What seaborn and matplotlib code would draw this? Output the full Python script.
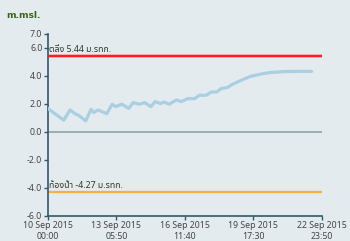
import numpy as np
import pandas as pd
import matplotlib
matplotlib.use("Agg")
import matplotlib.pyplot as plt
import matplotlib.dates as mdates
import seaborn as sns
from matplotlib import font_manager

# ---- data ----
start = "2015-09-10 00:00"
end = "2015-09-22 23:50"
tick_times = ["2015-09-10 00:00", "2015-09-13 05:50", "2015-09-16 11:40",
              "2015-09-19 17:30", "2015-09-22 23:50"]
hours = [0, 18, 25, 32, 35, 43, 49, 52, 57, 67, 73, 77, 84, 92, 97, 104, 110,
         117, 122, 128, 132, 138, 146, 152, 159, 167, 172, 180, 186, 192, 197,
         204, 210, 218, 230, 241, 252, 268, 283, 300]
levels = [1.67, 0.84, 1.57, 1.26, 1.19, 0.79, 1.62, 1.39, 1.57, 1.31, 1.98,
          1.81, 1.98, 1.69, 2.10, 1.98, 2.10, 1.81, 2.17, 2.03, 2.14, 1.98,
          2.29, 2.17, 2.38, 2.38, 2.62, 2.62, 2.86, 2.86, 3.10, 3.17, 3.41,
          3.64, 3.96, 4.12, 4.24, 4.31, 4.33, 4.33]
bank_level = 5.44
bed_level = -4.27
bank_label = "ตลิ่ง 5.44 ม.รทก."
bed_label = "ท้องน้ำ -4.27 ม.รทก."
yticks = [-6.0, -4.0, -2.0, 0.0, 2.0, 4.0, 6.0, 7.0]
y_unit = "m.msl."

t0 = pd.Timestamp(start)
t1 = pd.Timestamp(end)
df = pd.DataFrame({"time": t0 + pd.to_timedelta(hours, unit="h"), "level": levels})
xticks = pd.to_datetime(tick_times)

sns.set_theme(style="white")
avail = {f.name for f in font_manager.fontManager.ttflist}
fams = [f for f in ["Noto Sans Thai", "Loma", "Garuda", "Tlwg Typo", "Noto Sans", "DejaVu Sans"] if f in avail]
plt.rcParams["font.family"] = fams

bg = "#e4ebee"
fig = plt.figure(figsize=(3.5, 2.41), dpi=100, facecolor=bg)
ax = fig.add_axes([0.137, 0.104, 0.783, 0.755])
ax.set_facecolor(bg)

ax.axhline(0, color="#8ea4ae", lw=1.2, zorder=1)
ax.axhline(bank_level, color="#ff9a9a", lw=2.6, zorder=2)
ax.axhline(bank_level, color="#ff1a1a", lw=1.4, zorder=3)
ax.axhline(bed_level, color="#f5b040", lw=1.6, zorder=2)

sns.lineplot(data=df, x="time", y="level", ax=ax, color="#a9cfe3", lw=2.3, zorder=4)

ax.set_xlim(t0, t1)
ax.set_ylim(-6, 7)
ax.set_yticks(yticks)
ax.set_yticklabels([f"{v:.1f}" for v in yticks])
ax.set_xticks(xticks)
ax.set_xticklabels([t.strftime("%d %b %Y\n%H:%M") for t in xticks])
ax.set_xlabel("")
ax.set_ylabel("")

for s in ["top", "right"]:
    ax.spines[s].set_visible(False)
for s in ["left", "bottom"]:
    ax.spines[s].set_color("#2e5a6c")
    ax.spines[s].set_linewidth(1.2)
ax.tick_params(axis="both", which="both", direction="out", length=3, width=1,
               color="#2e5a6c", labelsize=6.3, labelcolor="#444444", pad=1,
               left=True, bottom=True)

ax.text(0.004, bank_level + 0.15, bank_label, transform=ax.get_yaxis_transform(),
        fontsize=6.3, color="#333333", va="bottom", ha="left")
ax.text(0.004, bed_level + 0.15, bed_label, transform=ax.get_yaxis_transform(),
        fontsize=6.3, color="#333333", va="bottom", ha="left")

fig.text(6 / 350, 1 - 15 / 241, y_unit, fontsize=6.6, fontweight="bold",
         family=["DejaVu Sans"], color="#3d6418", va="center", ha="left")

fig.savefig("out.png", dpi=100, facecolor=bg)
